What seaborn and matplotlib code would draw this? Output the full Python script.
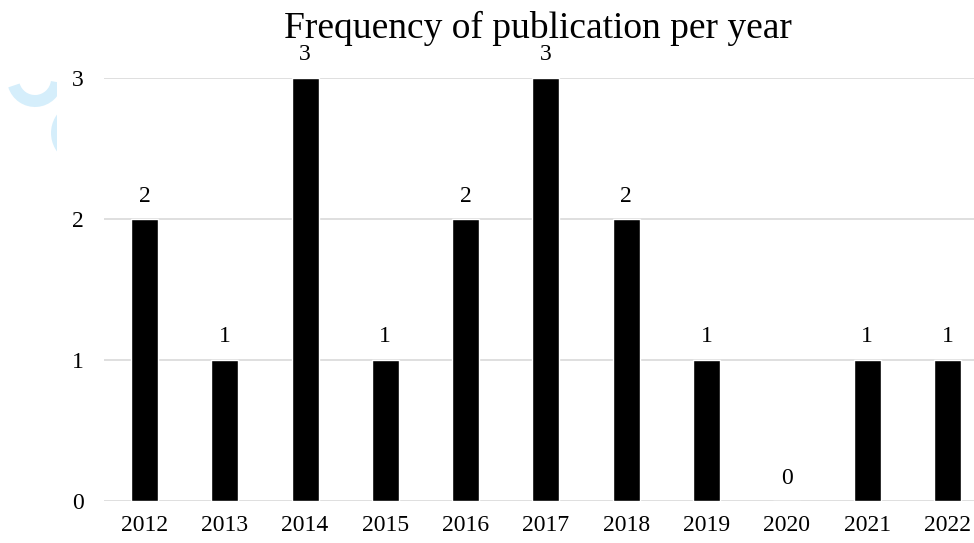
import matplotlib
matplotlib.use("Agg")
import matplotlib.pyplot as plt
from matplotlib.patches import Arc, Rectangle
import seaborn as sns
import pandas as pd

years = ["2012", "2013", "2014", "2015", "2016", "2017", "2018", "2019", "2020", "2021", "2022"]
counts = [2, 1, 3, 1, 2, 3, 2, 1, 0, 1, 1]
y_ticks = [0, 1, 2, 3]
title = "Frequency of publication per year"

sns.set_theme(style="white")
plt.rcParams["font.family"] = ["Liberation Serif", "DejaVu Serif"]

W, H = 974, 543
fig = plt.figure(figsize=(W / 100, H / 100), dpi=100)

# faint logo fragment in the upper-left margin
deco = fig.add_axes([0, 0, 1, 1], zorder=0)
deco.set_xlim(0, W)
deco.set_ylim(H, 0)
deco.axis("off")
clip = Rectangle((0, 0), 57, H, transform=deco.transData)
for center, size, t1, t2 in [((35, 79), 44, 8, 163), ((82.5, 133), 51, 120, 240)]:
    a = Arc(center, size, size, theta1=t1, theta2=t2, color="#d5eefb", lw=8.6)
    deco.add_patch(a)
    a.set_clip_path(clip)

# plot area: category slots 80.3 px wide, running past the right edge
left_px, slot = 104.3, 80.3
ax = fig.add_axes([left_px / W, 42 / H, (W - left_px) / W, (501 - 78) / H], zorder=1)
ax.patch.set_alpha(0)

df = pd.DataFrame({"year": years, "count": counts})
sns.barplot(data=df, x="year", y="count", color="black", saturation=1,
            width=0.336, ax=ax, zorder=3)

ax.set_xlim(-0.5, (W - left_px) / slot - 0.5)
ax.set_ylim(0, 3)
ax.set_yticks(y_ticks)
ax.set_yticklabels([str(v) for v in y_ticks])
ax.yaxis.grid(True, color="#d9d9d9", lw=1.2)
ax.xaxis.grid(False)
for s in ax.spines.values():
    s.set_visible(False)
ax.tick_params(axis="y", length=0, pad=15, labelsize=17, labelcolor="black")
ax.tick_params(axis="x", length=0, pad=10, labelsize=17, labelcolor="black")
ax.set_xlabel("")
ax.set_ylabel("")

for c in ax.containers:
    ax.bar_label(c, labels=[str(v) for v in counts], padding=9, fontsize=17, color="black")

fig.text(538 / W, 1 - 37.5 / H, title, ha="center", va="baseline", fontsize=27, color="black")

fig.savefig("out.png", dpi=100, facecolor="white")
